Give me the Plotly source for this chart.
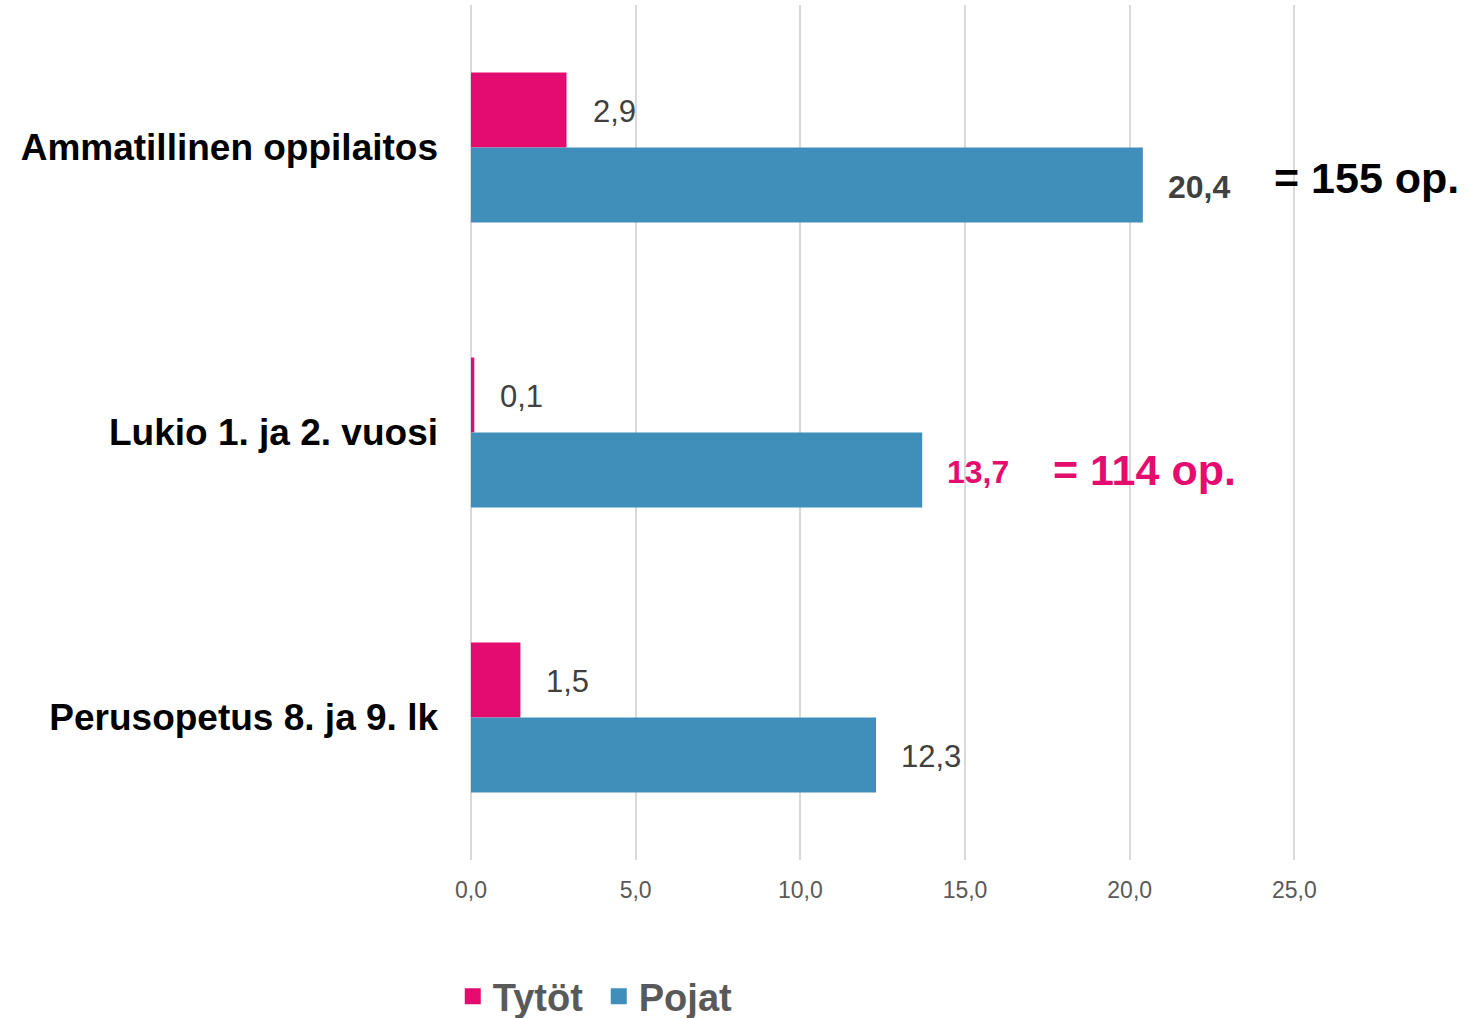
import plotly.graph_objects as go

categories = ["Ammatillinen oppilaitos", "Lukio 1. ja 2. vuosi", "Perusopetus 8. ja 9. lk"]
tytot = [2.9, 0.1, 1.5]
pojat = [20.4, 13.7, 12.3]
series_names = ["Tytöt", "Pojat"]
totals_text = ["= 155 op.", "= 114 op.", None]
x_ticks = [0, 5, 10, 15, 20, 25]

PINK = "#E40C6E"
BLUE = "#408EBA"
FONT = "Liberation Sans, Arial, sans-serif"

fig = go.Figure()
fig.add_trace(go.Bar(y=categories, x=tytot, orientation="h", name=series_names[0],
                     marker=dict(color=PINK, line=dict(width=0)), showlegend=False))
fig.add_trace(go.Bar(y=categories, x=pojat, orientation="h", name=series_names[1],
                     marker=dict(color=BLUE, line=dict(width=0)), showlegend=False))
# legend proxies
fig.add_trace(go.Scatter(x=[None], y=[None], mode="markers", name=series_names[0],
                         marker=dict(symbol="square", size=16, color=PINK)))
fig.add_trace(go.Scatter(x=[None], y=[None], mode="markers", name=series_names[1],
                         marker=dict(symbol="square", size=16, color=BLUE)))

def fmt(v):
    return f"{v:.1f}".replace(".", ",")

total_yshift = [-30, -37, 0]
annotations = []
for i, cat in enumerate(categories):
    annotations.append(dict(x=tytot[i], y=cat, xref="x", yref="y", text=fmt(tytot[i]),
                            xanchor="left", yanchor="middle", xshift=24, yshift=36,
                            showarrow=False, font=dict(family=FONT, size=31, color="#404040")))
    if i == 0:
        txt, col, size = f"<b>{fmt(pojat[i])}</b>", "#404040", 32
    elif i == 1:
        txt, col, size = f"<b>{fmt(pojat[i])}</b>", PINK, 32
    else:
        txt, col, size = fmt(pojat[i]), "#404040", 31
    annotations.append(dict(x=pojat[i], y=cat, xref="x", yref="y", text=txt,
                            xanchor="left", yanchor="middle", xshift=23, yshift=-39,
                            showarrow=False, font=dict(family=FONT, size=size, color=col)))
    if totals_text[i]:
        annotations.append(dict(x=pojat[i], y=cat, xref="x", yref="y",
                                text=f"<b>{totals_text[i]}</b>",
                                xanchor="left", yanchor="middle", xshift=129,
                                yshift=total_yshift[i], showarrow=False,
                                font=dict(family=FONT, size=43,
                                          color="#000000" if i == 0 else PINK)))

fig.update_layout(
    width=1470, height=1018,
    margin=dict(l=471, r=11, t=5, b=158, autoexpand=False),
    paper_bgcolor="white", plot_bgcolor="white",
    barmode="group", bargap=0.474, bargroupgap=0,
    separators=", ",
    font=dict(family=FONT),
    showlegend=True,
    legend=dict(orientation="h", xref="container", yref="container",
                x=0.308, xanchor="left", y=0.021, yanchor="middle",
                font=dict(family=FONT, size=38, color="#595959", weight="bold"),
                itemsizing="trace", traceorder="normal", entrywidth=101,
                bgcolor="rgba(0,0,0,0)"),
    annotations=annotations,
)
fig.update_xaxes(range=[0, 30], tickvals=x_ticks, tickformat=".1f", automargin=False,
                 showgrid=True, gridcolor="#D9D9D9", gridwidth=2,
                 zeroline=True, zerolinecolor="#D9D9D9", zerolinewidth=2,
                 showline=False, ticks="", ticklabelstandoff=14,
                 tickfont=dict(family=FONT, size=23, color="#595959"))
fig.update_yaxes(autorange="reversed", showgrid=False, zeroline=False, showline=False,
                 ticks="", ticklabelstandoff=32, automargin=False,
                 tickfont=dict(family=FONT, size=37, color="#000000", weight="bold"))

fig.write_html("out.html", config={"displayModeBar": False},
               post_script="document.body.style.margin='0px';")
